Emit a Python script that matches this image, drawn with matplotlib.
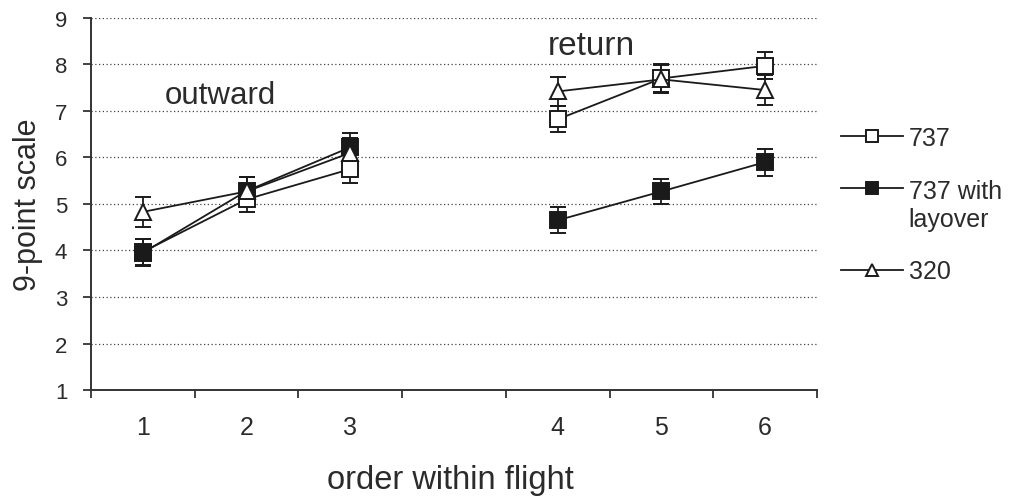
import numpy as np
import matplotlib
matplotlib.use("Agg")
import matplotlib.pyplot as plt

plt.rcParams['font.family'] = ['Liberation Sans', 'DejaVu Sans']

# categories along the x axis (blank slot separates outward / return legs)
categories = ['1', '2', '3', '', '4', '5', '6']

# means and error bars per aircraft condition
y_737 = [3.97, 5.10, 5.75, None, 6.82, 7.70, 7.97]
e_737 = [0.28, 0.28, 0.30, None, 0.28, 0.30, 0.29]
y_layover = [3.95, 5.28, 6.22, None, 4.65, 5.27, 5.90]
e_layover = [0.29, 0.30, 0.30, None, 0.28, 0.27, 0.29]
y_320 = [4.83, 5.27, 6.10, None, 7.42, 7.68, 7.45]
e_320 = [0.33, 0.32, 0.32, None, 0.31, 0.30, 0.32]

ink = '#1a1a1a'
text_col = '#2b2b2b'


def arr(v):
    return np.array([np.nan if a is None else a for a in v], dtype=float)


fig = plt.figure(figsize=(10.12, 5.02), dpi=100)
ax = fig.add_axes([0.0899, 0.2211, 0.7174, 0.7411])

x = np.arange(len(categories))
series = [
    (y_737, e_737, 's', 'white', '737'),
    (y_layover, e_layover, 's', ink, '737 with\nlayover'),
    (y_320, e_320, '^', 'white', '320'),
]
handles = []
for vals, errs, mk, face, lab in series:
    cont = ax.errorbar(x, arr(vals), yerr=arr(errs), color=ink, lw=1.3,
                       marker=mk, ms=11, mfc=face, mec=ink, mew=1.4,
                       ecolor=ink, elinewidth=1.3, capsize=6, capthick=1.5,
                       label=lab)
    handles.append(cont.lines[0])

# axes frame and ticks
ax.set_xlim(-0.5, len(categories) - 0.5)
ax.set_ylim(1, 9)
ax.set_yticks(range(1, 10))
ax.set_xticks(np.arange(-0.5, len(categories)))
ax.set_xticklabels([])
ax.set_xticks(x, minor=True)
ax.set_xticklabels(categories, minor=True)
ax.tick_params(axis='x', which='major', direction='out', length=6,
               width=1.3, color='#333333')
ax.tick_params(axis='x', which='minor', length=0, pad=18,
               labelsize=18, labelcolor=text_col)
ax.tick_params(axis='y', direction='out', length=6, width=1.3,
               color='#333333', labelsize=16, labelcolor=text_col, pad=11)
for side in ['top', 'right']:
    ax.spines[side].set_visible(False)
for side in ['left', 'bottom']:
    ax.spines[side].set_linewidth(1.4)
    ax.spines[side].set_color('#333333')

ax.yaxis.grid(True, color='#444444', linestyle=(0, (1, 2)), linewidth=0.9)
ax.set_axisbelow(True)

ax.set_ylabel('9-point scale', fontsize=22, color=text_col)
ax.yaxis.set_label_coords(-0.066, 0.5)
ax.set_xlabel('order within flight', fontsize=23.5, color=text_col)
ax.xaxis.set_label_coords(0.495, -0.2)

ax.text(0.21, 7.35, 'outward', fontsize=22.5, color=text_col,
        ha='left', va='center')
ax.text(3.9, 8.4, 'return', fontsize=24, color=text_col,
        ha='left', va='center')

leg = fig.legend(handles=handles, labels=[s[4] for s in series],
                 loc='center left', bbox_to_anchor=(0.819, 0.59),
                 frameon=False, fontsize=18, handlelength=2.48,
                 handletextpad=0.22, labelspacing=1.15, borderpad=0,
                 numpoints=1, markerscale=0.85, labelcolor=text_col)
# put the marker of the two-line entry next to its first line
for col in leg._legend_handle_box.get_children():
    for row in col.get_children():
        txt = row.get_children()[1]
        if '\n' in txt._text.get_text():
            row.align = 'top'

fig.savefig('out.png', dpi=100)
